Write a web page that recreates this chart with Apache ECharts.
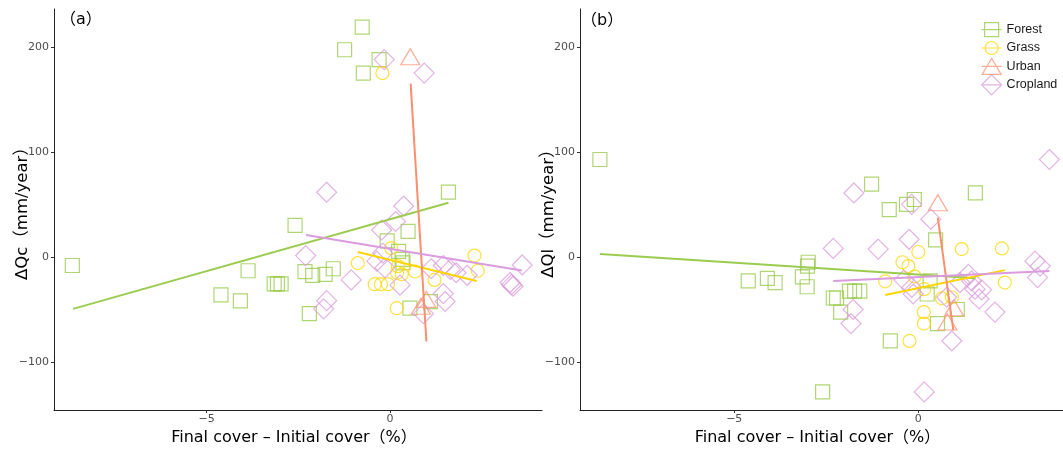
<!DOCTYPE html>
<html>
<head>
<meta charset="utf-8">
<title>Runoff change vs land cover change</title>
<script src="https://cdn.jsdelivr.net/npm/echarts@6/dist/echarts.min.js"></script>
<style>
  html, body { margin: 0; padding: 0; background: #fff; }
  #chart { width: 1063px; height: 451px; }
</style>
</head>
<body>
<div id="chart"></div>
<script>
// ---- Data: [cover change (%), runoff change (mm/year)] ----
// Panel (a): ΔQc
const forestA = [[-0.76, 218.7], [-1.24, 197.2], [-0.30, 187.8], [-0.73, 175.0], [1.59, 62.0], [-2.59, 30.3],
  [0.49, 24.6], [-0.08, 15.6], [0.23, 5.6], [0.33, -2.0], [0.35, -5.3], [0.54, -48.4], [1.10, -42.1],
  [-1.55, -10.9], [-1.77, -16.2], [-2.11, -17.1], [-2.32, -13.7], [-3.16, -25.3], [-3.07, -25.3],
  [-2.97, -25.3], [-3.87, -12.8], [-4.61, -35.8], [-4.08, -41.5], [-2.20, -53.6], [-8.66, -7.8]];
const grassA = [[-0.21, 175.0], [0.03, 8.7], [-0.88, -5.5], [0.21, -8.4], [0.19, -14.7], [0.32, -16.2],
  [0.68, -13.5], [1.21, -21.5], [2.30, 1.6], [2.39, -12.8], [0.18, -48.4], [-0.42, -25.6], [-0.25, -25.6],
  [-0.06, -25.6]];
const urbanA = [[0.55, 190.6], [0.99, -40.0], [0.84, -46.5]];
const croplandA = [[-0.16, 187.8], [0.93, 175.0], [-1.73, 61.8], [0.37, 48.7], [0.15, 34.0], [-0.23, 25.9],
  [-2.30, 1.6], [-1.06, -21.5], [-1.73, -41.2], [-1.81, -49.0], [-0.36, -3.7], [-0.14, -10.0], [-0.20, 4.0],
  [0.27, -26.5], [1.12, -10.9], [1.45, -7.8], [1.64, -11.5], [1.80, -14.7], [2.10, -17.1], [1.45, -34.5],
  [1.50, -42.0], [0.91, -53.6], [3.60, -7.3], [3.27, -24.0], [3.31, -26.0], [3.35, -27.5]];

// Panel (b): ΔQl
const forestB = [[-8.65, 92.9], [-4.62, -22.5], [-4.10, -20.0], [-3.89, -24.0], [-3.15, -18.7], [-2.99, -4.7],
  [-3.01, -8.4], [-3.02, -28.0], [-2.60, -127.9], [-1.27, 69.5], [-0.11, 54.9], [-0.32, 50.3], [-0.79, 45.2],
  [1.55, 61.1], [0.47, 16.6], [-2.31, -38.7], [-2.22, -38.7], [-2.11, -52.1], [-1.87, -32.2], [-1.73, -32.2],
  [-1.59, -32.2], [0.24, -34.9], [0.32, -22.5], [1.06, -49.6], [0.52, -63.0], [-0.76, -79.5]];
const grassB = [[0.00, 5.0], [1.18, 7.8], [2.27, 8.4], [-0.43, -4.7], [-0.27, -8.4], [-0.90, -22.8],
  [-0.10, -18.2], [2.35, -24.0], [0.16, -30.3], [0.64, -39.0], [0.91, -38.0], [0.15, -52.1], [0.15, -63.0],
  [-0.24, -79.5]];
const urbanB = [[0.53, 51.8], [0.97, -48.0], [0.79, -61.5]];
const croplandB = [[3.56, 92.9], [-1.75, 61.1], [-0.18, 50.3], [0.34, 36.2], [-0.25, 17.1], [-2.31, 8.4],
  [-1.09, 7.8], [3.17, -3.7], [3.31, -8.4], [3.24, -19.3], [-1.77, -49.6], [-1.83, -63.0], [0.91, -79.5],
  [2.08, -52.1], [0.16, -127.9], [-0.39, -21.7], [-0.18, -28.7], [-0.14, -34.9], [0.77, -38.0], [1.36, -16.2],
  [1.45, -22.5], [1.54, -30.3], [1.72, -30.9], [1.65, -39.6], [1.13, -24.0]];

// Linear fit end points for each class
const forestFitA = [[-8.64, -49.0], [1.59, 51.8]];
const grassFitA = [[-0.88, 5.0], [2.36, -22.5]];
const urbanFitA = [[0.56, 165.0], [0.99, -80.0]];
const croplandFitA = [[-2.29, 21.2], [3.59, -12.5]];
const forestFitB = [[-8.65, 3.1], [1.55, -20.0]];
const grassFitB = [[-0.90, -35.9], [2.35, -12.2]];
const urbanFitB = [[0.53, 37.7], [0.95, -69.3]];
const croplandFitB = [[-2.31, -22.5], [3.56, -13.1]];

// Axis ticks and text
const xTicks = [-5, 0];
const yTicks = [-100, 0, 100, 200];
const classNames = ['Forest', 'Grass', 'Urban', 'Cropland'];
const xTitle = 'Final cover – Initial cover（%）';
const yTitles = ['ΔQc（mm/year）', 'ΔQl（mm/year）'];
const panelTags = ['（a）', '（b）'];

// ---- Styling ----
const FONT = "'DejaVu Sans', 'Noto Sans CJK SC', sans-serif";
const markerColor = {
  Forest: 'rgba(145,198,62,0.9)',
  Grass: 'rgba(255,215,0,0.95)',
  Urban: 'rgba(250,140,110,0.9)',
  Cropland: 'rgba(218,155,220,0.95)'
};
const lineColor = {
  Forest: '#9BCB4F',
  Grass: '#FFD400',
  Urban: '#F8906E',
  Cropland: '#DA9BDF'
};
const markerShape = {
  Forest: { symbol: 'rect', size: 14 },
  Grass: { symbol: 'circle', size: 13 },
  Urban: { symbol: 'triangle', size: [19, 16] },
  Cropland: { symbol: 'diamond', size: [20, 20] }
};
// Legend keys: symbol outline with a horizontal line through it (20x20 box)
const legendIcons = {
  Forest: 'path://M0,0 M20,20 M0,10 L20,10 M3,3 L17,3 L17,17 L3,17 Z',
  Grass: 'path://M0,0 M20,20 M0,10 L20,10 M3.5,10 A6.5,6.5 0 1 1 16.5,10 A6.5,6.5 0 1 1 3.5,10 Z',
  Urban: 'path://M0,0 M20,20 M0,10 L20,10 M10,2 L19.5,18 L0.5,18 Z',
  Cropland: 'path://M0,0 M20,20 M0,10 L20,10 M10,0 L20,10 L10,20 L0,10 Z'
};

const minusSign = v => String(v).replace('-', '\u2212');

const X_RANGE = [[-9.16, 4.14], [-9.19, 3.93]];
const Y_RANGE = [-145.2, 235.9];

function xAxisFor(i) {
  return {
    type: 'value', gridIndex: i, min: X_RANGE[i][0], max: X_RANGE[i][1],
    name: xTitle, nameLocation: 'middle', nameGap: 13,
    nameTextStyle: { fontFamily: FONT, fontSize: 16, color: '#000', padding: [0, 8, 0, 0] },
    splitLine: { show: false },
    axisLine: { show: true, onZero: false, lineStyle: { color: '#222', width: 1 } },
    axisTick: { show: true, length: 3, lineStyle: { color: '#333' }, customValues: xTicks },
    axisLabel: { fontFamily: FONT, fontSize: 11, color: '#4D4D4D', margin: 4, customValues: xTicks, formatter: minusSign }
  };
}
function yAxisFor(i) {
  return {
    type: 'value', gridIndex: i, min: Y_RANGE[0], max: Y_RANGE[1],
    name: yTitles[i], nameLocation: 'middle', nameGap: 23, nameRotate: 90, nameMoveOverlap: false,
    nameTextStyle: { fontFamily: FONT, fontSize: 16.5, color: '#000' },
    splitLine: { show: false },
    axisLine: { show: true, onZero: false, lineStyle: { color: '#222', width: 1 } },
    axisTick: { show: true, length: 3, lineStyle: { color: '#333' }, customValues: yTicks },
    axisLabel: { fontFamily: FONT, fontSize: 11, color: '#4D4D4D', margin: 5, customValues: yTicks, formatter: minusSign }
  };
}

function pointSeries(name, data, i) {
  return {
    type: 'scatter', name, data, xAxisIndex: i, yAxisIndex: i,
    symbol: markerShape[name].symbol, symbolSize: markerShape[name].size,
    itemStyle: { color: 'rgba(0,0,0,0)', borderColor: markerColor[name], borderWidth: 1.2 },
    emphasis: { disabled: true }, silent: true, z: 2
  };
}
function fitSeries(name, data, i) {
  return {
    type: 'line', name, data, xAxisIndex: i, yAxisIndex: i,
    symbol: 'none', showSymbol: false,
    lineStyle: { color: lineColor[name], width: 2 },
    itemStyle: { color: lineColor[name] },
    emphasis: { disabled: true }, silent: true, z: 3
  };
}

const points = [
  [forestA, grassA, urbanA, croplandA],
  [forestB, grassB, urbanB, croplandB]
];
const fits = [
  [forestFitA, grassFitA, urbanFitA, croplandFitA],
  [forestFitB, grassFitB, urbanFitB, croplandFitB]
];

const series = [];
[0, 1].forEach(i => classNames.forEach((n, k) => series.push(pointSeries(n, points[i][k], i))));
[0, 1].forEach(i => classNames.forEach((n, k) => series.push(fitSeries(n, fits[i][k], i))));

const chart = echarts.init(document.getElementById('chart'), null, { renderer: 'canvas' });
chart.setOption({
  animation: false,
  backgroundColor: '#fff',
  title: [
    { text: panelTags[0], left: 60, top: 12, padding: 0,
      textStyle: { fontFamily: FONT, fontSize: 16, fontWeight: 'normal', color: '#000' } },
    { text: panelTags[1], left: 581, top: 13, padding: 0,
      textStyle: { fontFamily: FONT, fontSize: 16, fontWeight: 'normal', color: '#000' } }
  ],
  legend: {
    orient: 'vertical', left: 981, top: 19, padding: 0,
    itemWidth: 20, itemHeight: 20, itemGap: -2.8, selectedMode: false,
    data: classNames.map(n => ({ name: n, icon: legendIcons[n] })),
    itemStyle: { color: 'rgba(0,0,0,0)', borderWidth: 1.2 },
    textStyle: { fontFamily: "'Liberation Sans', Arial, sans-serif", fontSize: 12.5, color: '#1a1a1a' }
  },
  grid: [
    { left: 54, top: 9, width: 488, height: 407 },
    { left: 580, top: 9, width: 483, height: 407 }
  ],
  xAxis: [xAxisFor(0), xAxisFor(1)],
  yAxis: [yAxisFor(0), yAxisFor(1)],
  series
});
</script>
</body>
</html>
